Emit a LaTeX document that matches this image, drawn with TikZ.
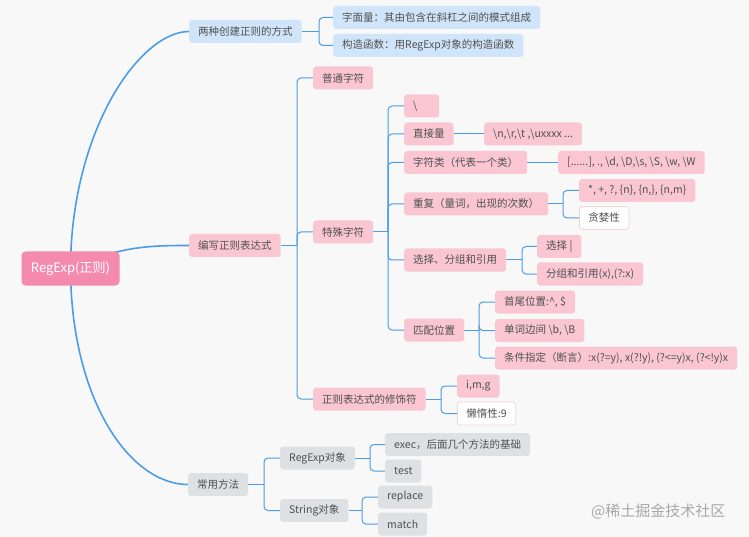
\documentclass[tikz,border=0pt]{standalone}
\usepackage{fontspec}
\setmainfont{Noto Sans CJK SC}
\usetikzlibrary{backgrounds}
\definecolor{bg}{HTML}{F8F8F8}
\definecolor{ln}{HTML}{4A9DE6}
\definecolor{txt}{HTML}{505050}
\definecolor{rootc}{HTML}{F48BAE}
\definecolor{pk}{HTML}{F9C6D1}
\definecolor{pkb}{HTML}{F3D3DA}
\definecolor{bl}{HTML}{D0E5F9}
\definecolor{gr}{HTML}{DDE1E3}
\definecolor{wm}{HTML}{A8A8A8}
\tikzset{
  box/.style={rounded corners=3pt, inner xsep=9pt, inner ysep=0pt, minimum height=23pt,
    font=\fontsize{10.5}{12}\selectfont, text=txt, anchor=west},
  lvlone/.style={box, minimum height=26pt},
  pinkbox/.style={box, fill=pk},
  whitebox/.style={box, fill=white, draw=pkb, line width=0.8pt},
  bluebox/.style={box, fill=bl},
  graybox/.style={box, fill=gr},
  conn/.style={draw=ln, line width=1pt, rounded corners=4pt},
  mainconn/.style={draw=ln, line width=1.6pt},
}
\begin{document}
\begin{tikzpicture}[x=1pt,y=-1pt]
\useasboundingbox (0,0) rectangle (749,537);
% root
\node[rounded corners=4pt, fill=rootc, text=white, minimum width=98pt, minimum height=34pt,
  font=\fontsize{13}{15}\selectfont] (root) at (70.5,268.5) {RegExp(正则)};
% level 1
\node[lvlone, bluebox] (A) at (189,31.5) {两种创建正则的方式};
\node[lvlone, pinkbox] (B) at (189,245.5) {编写正则表达式};
\node[lvlone, graybox] (C) at (188,484.5) {常用方法};
% A children
\node[bluebox] (A1) at (333,17.5) {字面量：其由包含在斜杠之间的模式组成};
\node[bluebox] (A2) at (333,45.5) {构造函数：用RegExp对象的构造函数};
% B children
\node[pinkbox] (B1) at (313,78) {普通字符};
\node[pinkbox] (B2) at (313,232) {特殊字符};
\node[pinkbox] (B3) at (313,399) {正则表达式的修饰符};
% B2 children
\node[pinkbox] (S1) at (404,106) {\makebox[17pt][l]{\textbackslash}};
\node[pinkbox] (S2) at (404,134) {直接量};
\node[pinkbox] (S2a) at (484,134) {\textbackslash n,\textbackslash r,\textbackslash t ,\textbackslash uxxxx ...};
\node[pinkbox] (S3) at (404,162.5) {字符类（代表一个类）};
\node[pinkbox] (S3a) at (558,162.5) {[......], ., \textbackslash d, \textbackslash D,\textbackslash s, \textbackslash S, \textbackslash w, \textbackslash W};
\node[pinkbox] (S4) at (404,204) {重复（量词，出现的次数）};
\node[pinkbox] (S4a) at (579,190.5) {*, +, ?, \{n\}, \{n,\}, \{n,m\}};
\node[whitebox] (S4b) at (579,218) {贪婪性};
\node[pinkbox] (S5) at (404,260) {选择、分组和引用};
\node[pinkbox] (S5a) at (537,246.5) {选择 |};
\node[pinkbox] (S5b) at (537,274) {分组和引用(x),(?:x)};
\node[pinkbox] (S6) at (404,330) {匹配位置};
\node[pinkbox] (S6a) at (495,302) {首尾位置:\textasciicircum, \$};
\node[pinkbox] (S6b) at (495,330.5) {单词边间 \textbackslash b, \textbackslash B};
\node[pinkbox] (S6c) at (495,358) {条件指定（断言）:x(?=y), x(?!y), (?<=y)x, (?<!y)x};
% B3 children
\node[pinkbox] (M1) at (457,386) {i,m,g};
\node[whitebox] (M2) at (457,413.5) {懒惰性:9};
% C children
\node[graybox] (C1) at (280,458) {RegExp对象};
\node[graybox] (C2) at (280,510.5) {String对象};
\node[graybox] (C1a) at (385,444.5) {exec，后面几个方法的基础};
\node[graybox] (C1b) at (385,471) {test};
\node[graybox] (C2a) at (378,497) {replace};
\node[graybox] (C2b) at (378,524) {match};
% watermark
\node[anchor=west, inner sep=0pt, text=wm, font=\fontsize{15}{17}\selectfont] (wmk) at (591,511.5) {@稀土掘金技术社区};
% bus coordinates
\coordinate (bA) at (319,0);
\coordinate (bB) at (297,0);
\coordinate (bB2) at (388,0);
\coordinate (bS4) at (563,0);
\coordinate (bS5) at (522,0);
\coordinate (bS6) at (479,0);
\coordinate (bB3) at (441,0);
\coordinate (bC) at (264,0);
\coordinate (bC1) at (370,0);
\coordinate (bC2) at (362,0);
\begin{scope}[on background layer]
\fill[bg] (0,0) rectangle (749,537);
% main curves
\draw[mainconn] (root.center) .. controls (71,130) and (140,31.5) .. (A.west);
\draw[mainconn] (root.center) .. controls (120,246) and (150,245.5) .. (B.west);
\draw[mainconn] (root.center) .. controls (71,400) and (130,484.5) .. (C.west);
% forks
\foreach \p/\b/\cs in {A/bA/{A1,A2}, B/bB/{B1,B2,B3}, B2/bB2/{S1,S2,S3,S4,S5,S6},
    S4/bS4/{S4a,S4b}, S5/bS5/{S5a,S5b}, S6/bS6/{S6a,S6b,S6c}, B3/bB3/{M1,M2},
    C/bC/{C1,C2}, C1/bC1/{C1a,C1b}, C2/bC2/{C2a,C2b}}{
  \draw[conn] (\p.east) -- (\p.east -| \b);
  \foreach \c in \cs { \draw[conn] (\p.east -| \b) |- (\c.west); }
}
\draw[conn] (S2.east) -- (S2a.west);
\draw[conn] (S3.east) -- (S3a.west);
\end{scope}
\end{tikzpicture}
\end{document}
